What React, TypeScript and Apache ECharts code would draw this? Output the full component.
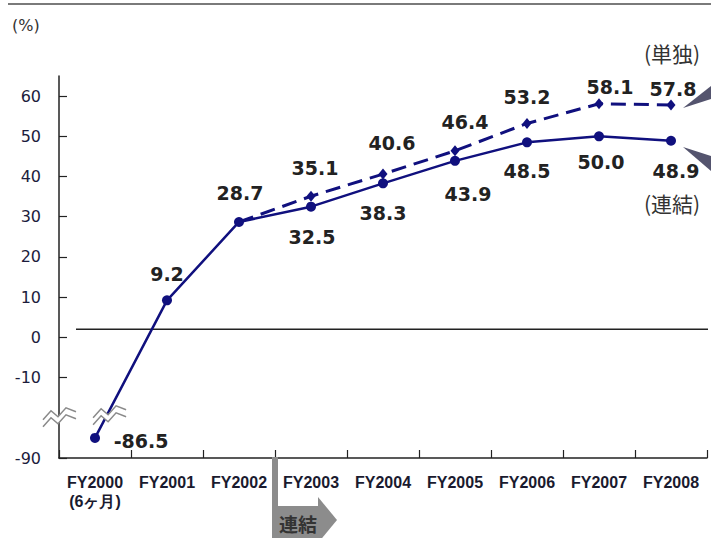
import React, { useEffect, useRef } from 'react';
import * as echarts from 'echarts';

const categories = ['FY2000\n(6ヶ月)', 'FY2001', 'FY2002', 'FY2003', 'FY2004', 'FY2005', 'FY2006', 'FY2007', 'FY2008'];
const consolidatedValues: number[] = [-86.5, 9.2, 28.7, 32.5, 38.3, 43.9, 48.5, 50.0, 48.9];
const standaloneValues: (number | null)[] = [null, null, 28.7, 35.1, 40.6, 46.4, 53.2, 58.1, 57.8];
const yTickLabels = [-90, -10, 0, 10, 20, 30, 40, 50, 60];
const seriesNames = ['連結', '単独'];
const consolidatedLabelOffsets = [[46, 3], [0, -26], [1, -29], [1, 30], [0, 30], [13, 33], [0, 29], [2, 26], [5, 30]];
const standaloneLabelOffsets = [[0, 0], [0, 0], [0, 0], [4, -28], [9, -31], [10, -29], [0, -26], [11, -17], [2, -16]];

const NAVY = '#10107e';
const LABEL_COLOR = '#222';

// broken axis: values below BREAK_REAL are drawn just under BREAK_AXIS
const BREAK_REAL = -83;
const BREAK_AXIS = -20;
const LOW_SCALE = 10 / 7;
const toAxis = (v: number) => (v >= BREAK_AXIS ? v : v > BREAK_REAL ? BREAK_AXIS : BREAK_AXIS - (BREAK_REAL - v) * LOW_SCALE);
const fromAxis = (t: number) => (t >= BREAK_AXIS ? t : BREAK_REAL - (BREAK_AXIS - t) / LOW_SCALE);

function breakMark(cx: number, cy: number) {
  const pts = (dy: number) => [
    [cx - 17, cy + 6 + dy],
    [cx - 9, cy - 3 + dy],
    [cx - 2, cy + 3 + dy],
    [cx + 6, cy - 6 + dy],
    [cx + 16, cy - 2 + dy],
  ];
  const upper = pts(-3);
  const lower = pts(4);
  return [
    { type: 'polygon', z: 50, shape: { points: [...upper, ...lower.slice().reverse()] }, style: { fill: '#fff' } },
    { type: 'polyline', z: 51, shape: { points: upper }, style: { stroke: '#8a8a8a', lineWidth: 1.5, fill: null } },
    { type: 'polyline', z: 51, shape: { points: lower }, style: { stroke: '#8a8a8a', lineWidth: 1.5, fill: null } },
  ];
}

export default function App() {
  const ref = useRef<HTMLDivElement>(null);
  useEffect(() => {
    if (!ref.current) return;
    const chart = echarts.init(ref.current, undefined, { renderer: 'svg' });
    const gridLeft = 59;
    const gridRight = 4;
    const gridTop = 76;
    const gridBottom = 80;
    chart.setOption({
      animation: false,
      grid: { left: gridLeft, right: gridRight, top: gridTop, bottom: gridBottom, containLabel: false, outerBoundsMode: 'none' },
      xAxis: {
        type: 'category',
        data: categories,
        boundaryGap: true,
        axisLine: { onZero: false, lineStyle: { color: '#222', width: 1.5 } },
        axisTick: { show: true, inside: true, length: 8, lineStyle: { color: '#222', width: 1.2 } },
        axisLabel: {
          interval: 0,
          margin: 15,
          color: '#1a1a2e',
          fontFamily: 'Liberation Sans',
          fontWeight: 'bold',
          fontSize: 16,
          lineHeight: 19,
        },
        splitLine: { show: false },
      },
      yAxis: {
        type: 'value',
        min: toAxis(-90),
        max: 65,
        interval: 10,
        axisLine: { show: true, lineStyle: { color: '#222', width: 1.5 } },
        axisTick: {
          show: true,
          inside: true,
          length: 8,
          lineStyle: { color: '#222', width: 1.2 },
          customValues: yTickLabels.map(toAxis),
        },
        axisLabel: {
          customValues: yTickLabels.map(toAxis),
          formatter: (v: number) => {
            const r = Math.round(fromAxis(v));
            return yTickLabels.includes(r) ? String(r) : '';
          },
          margin: 18,
          color: '#1c1c3c',
          fontFamily: 'DejaVu Sans',
          fontSize: 16,
        },
        splitLine: { show: false },
      },
      series: [
        {
          type: 'line',
          name: seriesNames[0],
          z: 4,
          data: consolidatedValues.map((v, i) => ({ value: toAxis(v), label: { offset: consolidatedLabelOffsets[i] } })),
          symbol: 'circle',
          symbolSize: 10,
          itemStyle: { color: NAVY },
          lineStyle: { color: NAVY, width: 2.5 },
          label: {
            show: true,
            position: 'inside',
            formatter: (p: any) => consolidatedValues[p.dataIndex].toFixed(1),
            fontFamily: 'DejaVu Sans',
            fontWeight: 'bold',
            fontSize: 19,
            color: LABEL_COLOR,
            textBorderWidth: 0,
          },
        },
        {
          type: 'line',
          name: seriesNames[1],
          z: 3,
          data: standaloneValues.map((v, i) =>
            v === null
              ? null
              : i === 2
              ? { value: v, symbol: 'none', label: { show: false } }
              : { value: toAxis(v), label: { offset: standaloneLabelOffsets[i] } }
          ),
          symbol: 'diamond',
          symbolSize: [9, 11],
          itemStyle: { color: NAVY },
          lineStyle: { color: NAVY, width: 3, type: [15, 8] },
          label: {
            show: true,
            position: 'inside',
            formatter: (p: any) => {
              const v = standaloneValues[p.dataIndex];
              return v === null ? '' : v.toFixed(1);
            },
            fontFamily: 'DejaVu Sans',
            fontWeight: 'bold',
            fontSize: 19,
            color: LABEL_COLOR,
            textBorderWidth: 0,
          },
        },
      ],
    });

    const yZeroLine = chart.convertToPixel({ yAxisIndex: 0 }, 2) as number;
    const yBreak = chart.convertToPixel({ yAxisIndex: 0 }, BREAK_AXIS) as number;
    const yBottom = chart.convertToPixel({ yAxisIndex: 0 }, toAxis(-90)) as number;
    const p0 = chart.convertToPixel({ seriesIndex: 0 }, [0, toAxis(consolidatedValues[0])]) as number[];
    const p1 = chart.convertToPixel({ seriesIndex: 0 }, [1, toAxis(consolidatedValues[1])]) as number[];
    const x2 = chart.convertToPixel({ xAxisIndex: 0 }, 2) as number;
    const x3 = chart.convertToPixel({ xAxisIndex: 0 }, 3) as number;
    const markY = yBreak - 3;
    const tLine = (p0[1] - markY) / (p0[1] - p1[1]);
    const markX = p0[0] + (p1[0] - p0[0]) * tLine + 3;
    const arrowX = (x2 + x3) / 2 - 3;

    chart.setOption({
      graphic: [
        { type: 'line', z: 1, shape: { x1: 8, y1: 4, x2: 711, y2: 4 }, style: { stroke: '#7a7a7a', lineWidth: 2 } },
        { type: 'line', z: 1, shape: { x1: 76, y1: yZeroLine, x2: 708, y2: yZeroLine }, style: { stroke: '#222', lineWidth: 1.5 } },
        {
          type: 'text', z: 10, x: 12, y: 25,
          style: { text: '(%)', fontFamily: 'DejaVu Sans', fontSize: 16, fill: '#333', verticalAlign: 'middle' },
        },
        {
          type: 'text', z: 10, x: 672, y: 53,
          style: { text: '(単独)', fontFamily: 'Noto Sans CJK JP', fontSize: 21, fill: '#333', align: 'center', verticalAlign: 'middle' },
        },
        {
          type: 'text', z: 10, x: 672, y: 203,
          style: { text: '(連結)', fontFamily: 'Noto Sans CJK JP', fontSize: 21, fill: '#333', align: 'center', verticalAlign: 'middle' },
        },
        { type: 'polygon', z: 10, shape: { points: [[683, 108], [711, 86], [711, 99]] }, style: { fill: '#54546e' } },
        { type: 'polygon', z: 10, shape: { points: [[683, 147], [711, 156], [711, 171]] }, style: { fill: '#54546e' } },
        ...breakMark(gridLeft + 1, yBreak - 1),
        ...breakMark(markX, markY),
        { type: 'rect', z: 10, shape: { x: arrowX, y: yBottom - 1, width: 6, height: 60 }, style: { fill: '#8c8c8c' } },
        { type: 'rect', z: 10, shape: { x: arrowX, y: 506, width: 47, height: 40 }, style: { fill: '#8c8c8c' } },
        { type: 'polygon', z: 10, shape: { points: [[arrowX + 46, 497], [arrowX + 65, 520], [arrowX + 46, 543]] }, style: { fill: '#8c8c8c' } },
        {
          type: 'text', z: 11, x: arrowX + 26, y: 523,
          style: { text: '連結', fontFamily: 'Noto Sans CJK JP', fontWeight: 'bold', fontSize: 19, fill: '#333', align: 'center', verticalAlign: 'middle' },
        },
      ],
    });

    return () => chart.dispose();
  }, []);
  return <div ref={ref} style={{ position: 'fixed', left: 0, top: 0, width: 711, height: 538, background: '#fff' }} />;
}
